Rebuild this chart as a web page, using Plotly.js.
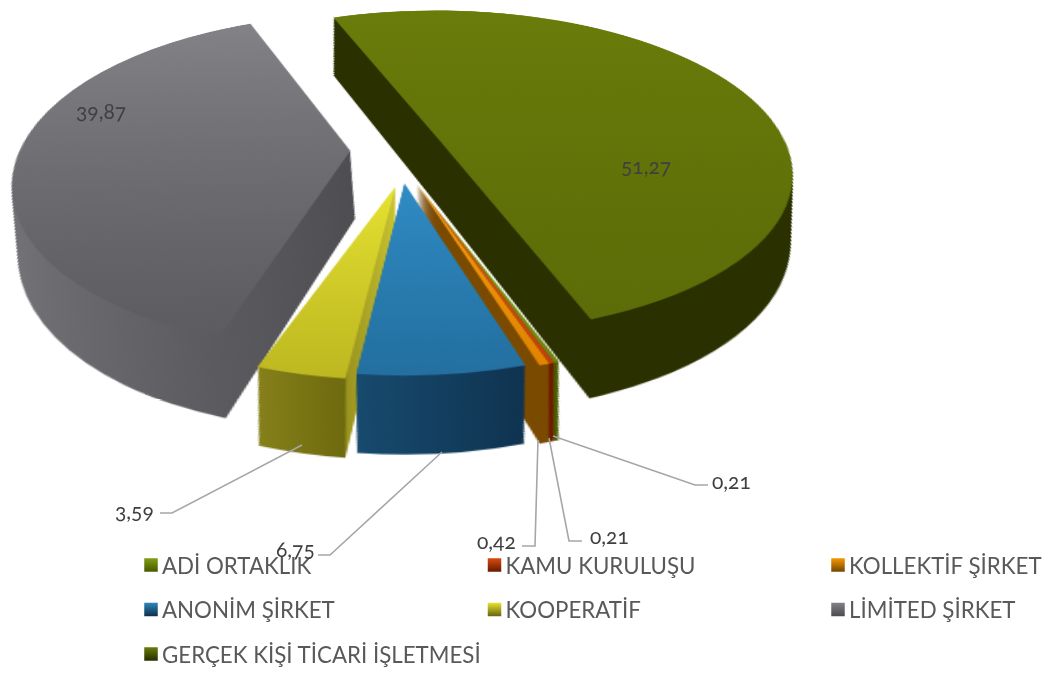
<!DOCTYPE html>
<html>
<head>
<meta charset="utf-8">
<script src="https://cdn.plot.ly/plotly-3.0.1.min.js"></script>
<style>
html,body{margin:0;padding:0;background:#fff;}
#chart{width:1050px;height:675px;position:relative;overflow:hidden;}
text{font-variant-numeric:oldstyle-nums;font-feature-settings:"onum" 1;}
</style>
</head>
<body>
<div id="chart"></div>
<script>
var categories = ['ADİ ORTAKLIK','KAMU KURULUŞU','KOLLEKTİF ŞİRKET','ANONİM ŞİRKET','KOOPERATİF','LİMİTED ŞİRKET','GERÇEK KİŞİ TİCARİ İŞLETMESİ'];
var values = [0.21,0.21,0.42,6.75,3.59,39.87,51.27];
var valueLabels = ['0,21','0,21','0,42','6,75','3,59','39,87','51,27'];
var pulls = [0.0,0.0,0.0,0.0,0.02,0.16,0.14];
var topColors = ['#7d9a12','#d2480f','#f09400','#2a82b8','#e0dc30','#7f7f84','#66780a'];
var topLight  = ['#8fb01a','#e05a18','#f8a010','#2f8cc4','#e6e232','#828287','#6a7c0a'];
var topDark   = ['#6c8410','#bf3f0c','#e08400','#236fa0','#bdb820','#5c5c60','#5c6c08'];
var wallStops = [
 [[0,'#4b5c00'],[1,'#4b5c00']],
 [[0,'#6e1c00'],[1,'#6e1c00']],
 [[0,'#7a4a00'],[1,'#7a4a00']],
 [[0,'#174a6e'],[1,'#0f3350']],
 [[0,'#85801a'],[0.64,'#6e6a0e'],[0.66,'#9a9420'],[1,'#c8c430']],
 [[0,'#747478'],[1,'#4e4e52']],
 [[0,'#2a3000'],[1,'#2a3000']]
];
var wallRight = ['#4b5c00','#6e1c00','#7a4a00','#0f3350','#6e6a0e','#4e4e52','#2a3000'];
// per-slice adjustment of the flat pie, imitating the original's uneven explosion
var sliceShift = [
 {dx:9,dy:11,sx:1,sy:0.89,ox:525,oy:270,rot:0},
 {dx:9,dy:11,sx:1,sy:0.89,ox:525,oy:270,rot:0},
 {dx:9,dy:11,sx:1,sy:0.89,ox:525,oy:270,rot:0},
 {dx:1,dy:11,sx:1,sy:0.89,ox:525,oy:270,rot:0},
 {dx:-4,dy:11,sx:1,sy:0.89,ox:525,oy:270,rot:0},
 {dx:-8,dy:-26,sx:1,sy:0.97,ox:488,oy:30,rot:-2},
 {dx:-3,dy:-24,sx:1.05,sy:0.96,ox:560,oy:30,rot:0}
];

var labelPos = [[731,480],[609,535],[496,540],[295,548],[134,510],[101,110],[646,166]];
var leaders = [
 'M 553 436 L 695 485 L 708 485',
 'M 549 438 L 569 541 L 582 541',
 'M 538 440 L 535 546 L 522 546',
 'M 442 452 L 330 555 L 318 555',
 'M 302 445 L 172 513 L 160 513'
];
var W=1050,H=675;
var LAYERS=36, STEP=0.00375, SHRINK=0.075;
var C0=0.6, H0=0.4;
var ROT=160;
var traces=[];
for(var i=LAYERS;i>=0;i--){
  var hh=H0*(1-SHRINK*i/LAYERS), cc=C0-i*STEP;
  traces.push({
    type:'pie',labels:categories,values:values,sort:false,direction:'clockwise',rotation:ROT,
    pull:pulls,textinfo:'none',hoverinfo:'label+value',
    domain:{x:[0,1],y:[cc-hh,cc+hh]},
    marker:{colors:i===0?topColors:wallRight,line:{width:0}},
    showlegend:i===0
  });
}
function ann(i){var p=labelPos[i];return {xref:'paper',yref:'paper',x:p[0]/W,y:1-p[1]/H,text:valueLabels[i],showarrow:false,xanchor:'center',yanchor:'middle',font:{family:'Lato',size:21,color:'#404040'}};}
var layout={
  width:W,height:H,margin:{l:0,r:0,t:0,b:0},
  paper_bgcolor:'rgba(0,0,0,0)',plot_bgcolor:'rgba(0,0,0,0)',
  font:{family:'Lato',color:'#595959',size:22},
  legend:{orientation:'h',x:0,xanchor:'left',y:0.6,yanchor:'top',bgcolor:'rgba(0,0,0,0)',
    font:{family:'Lato',size:22.3,color:'#595959'},traceorder:'normal',itemclick:false},
  annotations:values.map(function(v,i){return ann(i);}),
  shapes:leaders.map(function(d){return {type:'path',xref:'paper',yref:'paper',path:d.replace(/(\d+) (\d+)/g,function(m,a,b){return (a/W)+' '+(1-b/H);}),line:{color:'#a6a6a6',width:1.6}};})
};
Plotly.newPlot('chart',traces,layout,{displayModeBar:false,staticPlot:true}).then(function(){
  var NS='http://www.w3.org/2000/svg';
  var cont=document.querySelector('#chart .svg-container');
  var pl=document.querySelector('#chart .pielayer');
  var s=document.createElementNS(NS,'svg');
  s.setAttribute('width',W);s.setAttribute('height',H);
  s.style.cssText='position:absolute;left:0;top:0;overflow:visible;transform-origin:525px 270px;transform:translate(-122px,-95px) perspective(1500px) rotateX(59deg) scale(1.46);';
  var defs=document.createElementNS(NS,'defs');
  function grad(id,stops,horiz){
    var g=document.createElementNS(NS,'linearGradient');
    g.setAttribute('id',id);g.setAttribute('x1','0');g.setAttribute('y1','0');
    g.setAttribute('x2',horiz?'1':'0');g.setAttribute('y2',horiz?'0':'1');
    stops.forEach(function(st){var e=document.createElementNS(NS,'stop');e.setAttribute('offset',st[0]);e.setAttribute('stop-color',st[1]);g.appendChild(e);});
    defs.appendChild(g);
  }
  topColors.forEach(function(c,i){
    grad('gr'+i,[[0,topLight[i]],[1,topDark[i]]],false);
    grad('wl'+i,wallStops[i],true);
    grad('sw'+i,[[0,topColors[i]],[1,wallRight[i]]],false);
  });
  s.appendChild(defs);
  s.appendChild(pl);
  cont.insertBefore(s,cont.firstChild);
  var tr=pl.querySelectorAll('.trace');
  tr.forEach(function(t,k){
    var isTop=k===tr.length-1;
    t.querySelectorAll('.slice path.surface').forEach(function(p,i){
      p.style.fill='url(#'+(isTop?'gr':'wl')+i+')';
      var a=sliceShift[i];
      p.setAttribute('transform','translate('+a.dx+','+a.dy+') translate('+a.ox+','+a.oy+') rotate('+a.rot+') scale('+a.sx+','+a.sy+') translate('+(-a.ox)+','+(-a.oy)+')');
    });
  });
  // legend laid out in three columns, as in the reference
  var lg=document.querySelector('#chart .legend');
  lg.setAttribute('transform','translate(0,0)');
  lg.querySelectorAll('[clip-path]').forEach(function(e){e.removeAttribute('clip-path');});
  lg.querySelectorAll('.scrollbox').forEach(function(e){e.setAttribute('transform','translate(0,0)');e.style.clipPath='none';});
  lg.querySelectorAll('.groups').forEach(function(e){e.setAttribute('transform','translate(0,0)');});
  lg.querySelectorAll('.traces').forEach(function(t,i){
    var c=i%3,r=Math.floor(i/3);
    t.setAttribute('transform','translate('+(131+343.5*c)+','+(565+44.5*r)+')');
    var tx=t.querySelector('.legendtext');
    tx.setAttribute('x',31);
    tx.querySelectorAll('tspan').forEach(function(sp){sp.setAttribute('x',31);});
    var sw=t.querySelector('.legendpoints path');
    if(sw){sw.style.fill='url(#sw'+i+')';sw.style.stroke='url(#sw'+i+')';sw.style.strokeWidth='1.5px';}
  });
});
</script>
</body>
</html>
